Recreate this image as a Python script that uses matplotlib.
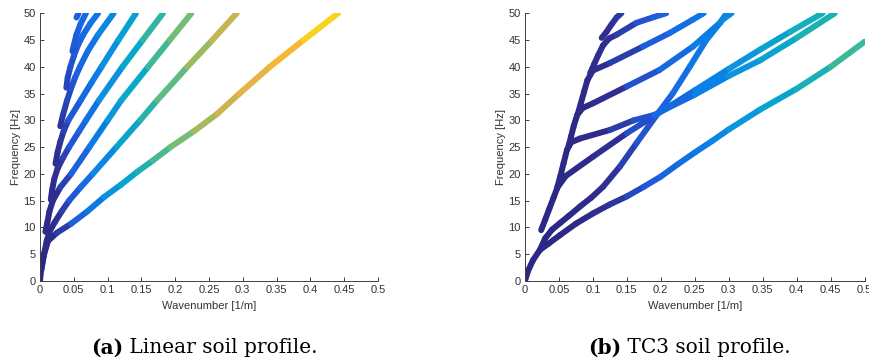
import numpy as np
import matplotlib
matplotlib.use('Agg')
import matplotlib.pyplot as plt
from matplotlib.collections import LineCollection
from matplotlib.colors import LinearSegmentedColormap, Normalize
from matplotlib.ticker import MultipleLocator, FormatStrFormatter

# dispersion branches, linear soil profile: wavenumber [1/m] vs frequency [Hz]
lin1_k = [0, 0.002, 0.006, 0.012, 0.025, 0.046, 0.07, 0.095, 0.12, 0.144, 0.167, 0.193, 0.228, 0.262, 0.295, 0.34, 0.39, 0.441]
lin1_f = [0, 2.5, 5, 7.5, 9, 10.7, 13, 15.7, 18, 20.4, 22.5, 25, 28, 31.2, 35, 40, 45, 50]
lin2_k = [0.002, 0.006, 0.01, 0.014, 0.022, 0.032, 0.043, 0.06, 0.078, 0.113, 0.148, 0.173, 0.218, 0.255, 0.291]
lin2_f = [2, 5, 7.5, 9.2, 11, 13, 15, 17.5, 20, 25, 30, 33.7, 40, 45, 50]
lin3_k = [0.008, 0.011, 0.014, 0.019, 0.03, 0.046, 0.073, 0.1, 0.12, 0.16, 0.192, 0.224]
lin3_f = [9.2, 11, 13, 15, 17.5, 20, 25, 30, 33.7, 40, 45, 50]
lin4_k = [0.016, 0.018, 0.021, 0.026, 0.034, 0.043, 0.058, 0.068, 0.087, 0.122, 0.152, 0.182]
lin4_f = [15.2, 17, 19, 21, 23, 25, 28, 30, 33.7, 40, 45, 50]
lin5_k = [0.023, 0.026, 0.03, 0.035, 0.042, 0.06, 0.076, 0.091, 0.116, 0.142]
lin5_f = [21.9, 24, 26, 28, 30, 33.7, 37, 40, 45, 50]
lin6_k = [0.030, 0.034, 0.040, 0.046, 0.052, 0.059, 0.071, 0.086, 0.109]
lin6_f = [28.9, 31, 33.7, 36, 38, 40, 43, 46, 50]
lin7_k = [0.039, 0.041, 0.045, 0.05, 0.056, 0.064, 0.074, 0.086]
lin7_f = [36.1, 38, 40, 42, 44, 46, 48, 50]
lin8_k = [0.048, 0.050, 0.054, 0.06, 0.068]
lin8_f = [42.9, 44, 46, 48, 50]
lin9_k = [0.054, 0.057]
lin9_f = [49.2, 50]

# dispersion branches, TC3 soil profile
tc1_k = [0, 0.005, 0.012, 0.022, 0.035, 0.052, 0.075, 0.1, 0.125, 0.15, 0.175, 0.2, 0.225, 0.25, 0.275, 0.3, 0.346, 0.4, 0.45, 0.5]
tc1_f = [0, 2, 3.9, 5.8, 7.0, 8.6, 10.7, 12.6, 14.3, 15.8, 17.6, 19.5, 21.8, 24.0, 26.1, 28.3, 32.0, 35.9, 40.0, 44.7]
tc2_k = [0.022, 0.03, 0.04, 0.0515, 0.065, 0.081, 0.098, 0.115, 0.14, 0.164, 0.194, 0.218, 0.243, 0.267, 0.291, 0.304]
tc2_f = [5.8, 8.0, 9.6, 10.8, 12.2, 13.9, 15.6, 17.6, 21.4, 25.7, 31.0, 35.1, 40.1, 45.0, 48.8, 50]
tc3_k = [0.024, 0.03, 0.036, 0.042, 0.048, 0.06, 0.1, 0.15, 0.19, 0.25, 0.3, 0.346, 0.39, 0.438]
tc3_f = [9.5, 11.5, 13.5, 15.5, 17.5, 19.6, 23.2, 27.6, 30.8, 35.6, 39.6, 43.2, 46.5, 50]
tc4_k = [0.047, 0.052, 0.057, 0.062, 0.068, 0.081, 0.125, 0.16, 0.19, 0.25, 0.3, 0.346, 0.4, 0.456]
tc4_f = [17.2, 19.5, 22, 24.5, 25.9, 26.6, 28.2, 30.0, 31.0, 34.8, 38.3, 41.2, 45.4, 50]
tc5_k = [0.064, 0.068, 0.072, 0.077, 0.085, 0.1005, 0.1495, 0.198, 0.2475, 0.287, 0.297]
tc5_f = [25.1, 27.0, 29.0, 31.0, 32.3, 33.2, 36.3, 39.4, 43.8, 48.2, 50]
tc6_k = [0.078, 0.082, 0.087, 0.092, 0.1, 0.125, 0.174, 0.213, 0.247, 0.263]
tc6_f = [31.3, 33.0, 35.3, 37.5, 39.3, 40.7, 43.8, 46.3, 48.8, 50]
tc7_k = [0.096, 0.102, 0.108, 0.115, 0.124, 0.135, 0.164, 0.19, 0.208]
tc7_f = [38.8, 40.5, 42.2, 44.0, 45.3, 46.0, 48.2, 49.3, 50]
tc8_k = [0.113, 0.12, 0.128, 0.135, 0.142]
tc8_f = [45.4, 46.5, 48.0, 49.2, 50]

lin_modes = [(lin1_k, lin1_f), (lin2_k, lin2_f), (lin3_k, lin3_f), (lin4_k, lin4_f), (lin5_k, lin5_f),
             (lin6_k, lin6_f), (lin7_k, lin7_f), (lin8_k, lin8_f), (lin9_k, lin9_f)]
tc_modes = [(tc1_k, tc1_f), (tc2_k, tc2_f), (tc3_k, tc3_f), (tc4_k, tc4_f),
            (tc5_k, tc5_f), (tc6_k, tc6_f), (tc7_k, tc7_f), (tc8_k, tc8_f)]

# parula-like map
cmap = LinearSegmentedColormap.from_list('par', [
    (0.0, (0.17, 0.16, 0.52)),
    (0.06, (0.19, 0.18, 0.57)),
    (0.12, (0.12, 0.36, 0.87)),
    (0.195, (0.04, 0.49, 0.90)),
    (0.25, (0.04, 0.59, 0.86)),
    (0.32, (0.03, 0.67, 0.78)),
    (0.41, (0.28, 0.73, 0.56)),
    (0.51, (0.55, 0.74, 0.40)),
    (0.66, (0.86, 0.70, 0.30)),
    (0.84, (0.97, 0.72, 0.20)),
    (1.0, (0.97, 0.88, 0.08))])

fig = plt.figure(figsize=(8.69, 3.58), dpi=100)
ax1 = fig.add_axes([0.046, 0.215, 0.389, 0.748])
ax2 = fig.add_axes([0.604, 0.215, 0.391, 0.748])


def draw_modes(ax, modes, norm):
    for k, f in modes:
        pts = np.column_stack([k, f])
        segs = np.stack([pts[:-1], pts[1:]], axis=1)
        lc = LineCollection(segs, cmap=cmap, norm=norm, linewidths=4.3)
        lc.set_capstyle('round')
        lc.set_joinstyle('round')
        lc.set_array(0.5 * (pts[:-1, 0] + pts[1:, 0]))
        ax.add_collection(lc)


def style(ax):
    ax.set_xlim(0, 0.5)
    ax.set_ylim(0, 50)
    ax.xaxis.set_major_locator(MultipleLocator(0.05))
    ax.yaxis.set_major_locator(MultipleLocator(5))
    ax.xaxis.set_major_formatter(FormatStrFormatter('%g'))
    for s in ['top', 'right']:
        ax.spines[s].set_visible(False)
    for s in ['left', 'bottom']:
        ax.spines[s].set_linewidth(0.7)
        ax.spines[s].set_color('0.25')
    ax.tick_params(direction='in', length=3, width=0.7, color='0.25',
                   labelcolor='0.2', labelsize=8, pad=3)
    for t in ax.get_xticklabels() + ax.get_yticklabels():
        t.set_family('Liberation Sans')
    ax.set_xlabel('Wavenumber [1/m]', fontsize=8, color='0.2', family='Liberation Sans', labelpad=4)
    ax.set_ylabel('Frequency [Hz]', fontsize=8, color='0.2', family='Liberation Sans', labelpad=2)


draw_modes(ax1, lin_modes, Normalize(0, 0.441))
draw_modes(ax2, tc_modes, Normalize(0.06, 1.113))
style(ax1)
style(ax2)

# sub-captions: bold tag followed by plain text, centred as one group
cap = dict(fontsize=14.5, family='DejaVu Serif', va='center', color='black')
renderer = fig.canvas.get_renderer()
for cx, tag, body in [(204, '(a)', 'Linear soil profile.'), (689, '(b)', 'TC3 soil profile.')]:
    t1 = fig.text(0, 0.028, tag, weight='bold', ha='left', **cap)
    t2 = fig.text(0, 0.028, ' ' + body, ha='left', **cap)
    w1 = t1.get_window_extent(renderer).width
    w2 = t2.get_window_extent(renderer).width
    x0 = cx - (w1 + w2) / 2
    t1.set_x(x0 / 869)
    t2.set_x((x0 + w1) / 869)

fig.savefig('out.png', dpi=100)
